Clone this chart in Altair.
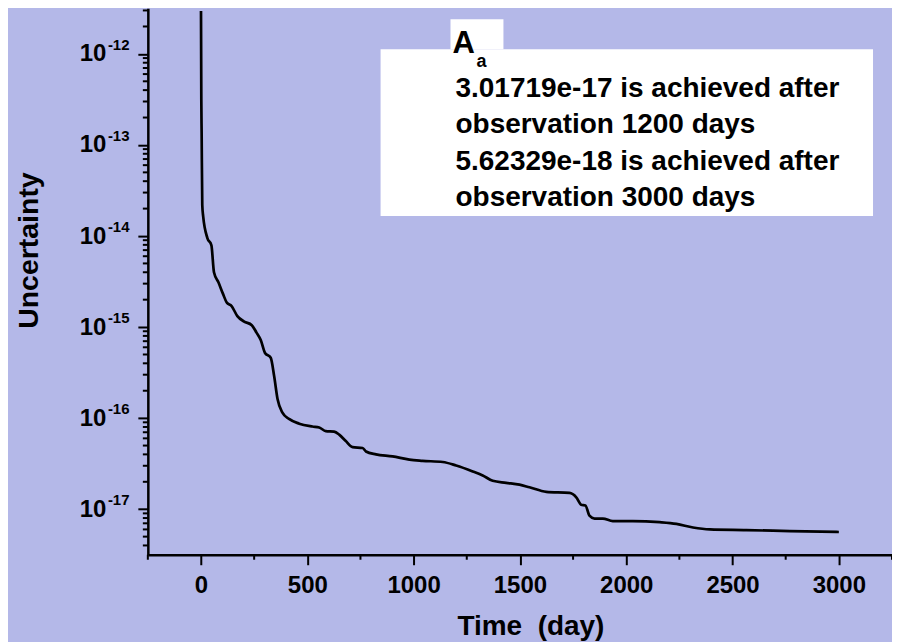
import altair as alt
import pandas as pd

# ---- data ----
days = [0, 1.5, 3, 6, 10, 30, 49, 61, 82, 104, 121, 144, 171, 203, 239, 261, 281, 301,
        328, 344, 360, 383, 414, 462, 524, 556, 587, 626, 650, 681, 713, 760, 776, 823,
        901, 980, 1042, 1137, 1200, 1278, 1325, 1372, 1435, 1498, 1545, 1624, 1733, 1765,
        1788, 1808, 1827, 1851, 1890, 1937, 2031, 2157, 2236, 2314, 2393, 2565, 2770, 3000]
uncertainty = [2.95e-12, 3.16e-13, 1.35e-13, 2.19e-14, 1.66e-14, 9.5e-15, 7.9e-15, 4.0e-15,
               3.1e-15, 2.3e-15, 1.86e-15, 1.70e-15, 1.32e-15, 1.15e-15, 1.05e-15, 8.7e-16,
               7.2e-16, 5.2e-16, 4.6e-16, 2.9e-16, 1.62e-16, 1.15e-16, 9.8e-17, 8.7e-17,
               8.1e-17, 7.9e-17, 7.2e-17, 7.1e-17, 6.6e-17, 5.6e-17, 4.8e-17, 4.7e-17,
               4.3e-17, 4.0e-17, 3.8e-17, 3.5e-17, 3.4e-17, 3.3e-17, 3.01719e-17, 2.6e-17,
               2.35e-17, 2.05e-17, 1.95e-17, 1.86e-17, 1.74e-17, 1.55e-17, 1.51e-17, 1.35e-17,
               1.12e-17, 1.10e-17, 8.5e-18, 7.9e-18, 7.9e-18, 7.4e-18, 7.4e-18, 7.2e-18,
               6.9e-18, 6.3e-18, 6.0e-18, 5.9e-18, 5.75e-18, 5.62329e-18]

y_major = [1e-17, 1e-16, 1e-15, 1e-14, 1e-13, 1e-12]
y_exponents = ["-17", "-16", "-15", "-14", "-13", "-12"]
x_major = [0, 500, 1000, 1500, 2000, 2500, 3000]
x_minor = [-250, 250, 750, 1250, 1750, 2250, 2750, 3250]

annotation_lines = ["3.01719e-17 is achieved after", "observation 1200 days",
                    "5.62329e-18 is achieved after", "observation 3000 days"]

BG = "#B4B8E8"
FONT = "Liberation Sans"

y_minor = [m * 10.0 ** e for e in range(-18, -11) for m in range(2, 10)]
y_minor = [v for v in y_minor if 3.17e-18 < v < 3.16e-12]

df = pd.DataFrame({"day": days, "u": uncertainty})

xscale = alt.Scale(domain=[-250, 3250], nice=False, zero=False)
yscale = alt.Scale(type="log", domain=[10 ** -17.5, 10 ** -11.5], nice=False)

x_axis = alt.Axis(
    values=x_major, format="d", tickSize=10, labelPadding=9,
    title="Time\u00a0\u00a0(day)", titleX=383, titleY=80, titleBaseline="alphabetic",
)
y_axis = alt.Axis(
    values=y_major, labelExpr="'10'", tickSize=10, labelPadding=32, labelBaseline="middle",
    title="Uncertainty", titleX=-110, titleY=242, titleAngle=270, titleBaseline="alphabetic",
    titleFontSize=28.5,
)

line = alt.Chart(df).mark_line(color="black", strokeWidth=2.7, interpolate="monotone").encode(
    x=alt.X("day:Q", scale=xscale, axis=x_axis),
    y=alt.Y("u:Q", scale=yscale, axis=y_axis),
)

exp_df = pd.DataFrame({"u": y_major, "t": y_exponents})
exps = alt.Chart(exp_df).mark_text(
    align="left", baseline="middle", dy=-9, fontSize=15, fontWeight="bold", font=FONT, color="black"
).encode(
    y=alt.Y("u:Q", scale=yscale, axis=y_axis),
    x=alt.value(-40),
    text="t:N",
)

ymin_df = pd.DataFrame({"u": y_minor})
y_minor_ticks = alt.Chart(ymin_df).mark_rule(color="black", strokeWidth=2).encode(
    y=alt.Y("u:Q", scale=yscale, axis=y_axis),
    x=alt.value(-5), x2=alt.value(0),
)
xmin_df = pd.DataFrame({"day": x_minor})
x_minor_ticks = alt.Chart(xmin_df).mark_rule(color="black", strokeWidth=2).encode(
    x=alt.X("day:Q", scale=xscale, axis=x_axis),
    y=alt.value(547), y2=alt.value(552),
)

one = pd.DataFrame({"k": [0]})
box = alt.Chart(one).mark_rect(color="white").encode(
    x=alt.value(233), x2=alt.value(726), y=alt.value(41), y2=alt.value(208))
tab = alt.Chart(one).mark_rect(color="white").encode(
    x=alt.value(303), x2=alt.value(356), y=alt.value(11), y2=alt.value(41))
big_a = alt.Chart(one).mark_text(
    align="left", baseline="alphabetic", fontSize=31, fontWeight="bold", font=FONT, color="black"
).encode(x=alt.value(305), y=alt.value(45), text=alt.value("A"))
small_a = alt.Chart(one).mark_text(
    align="left", baseline="alphabetic", fontSize=18, fontWeight="bold", font=FONT, color="black"
).encode(x=alt.value(329), y=alt.value(59), text=alt.value("a"))
note = alt.Chart(one).mark_text(
    align="left", baseline="alphabetic", fontSize=28, fontWeight="bold", font=FONT, color="black",
    lineHeight=36.5
).encode(x=alt.value(308), y=alt.value(88.7), text=alt.value(annotation_lines))

chart = alt.layer(box, tab, line, exps, y_minor_ticks, x_minor_ticks, big_a, small_a, note).properties(
    width=745, height=547,
    autosize=alt.AutoSizeParams(type="none"),
    padding={"left": 140, "top": 0, "right": 0, "bottom": 87},
    background=BG,
).configure_view(stroke=None).configure_axis(
    grid=False, domainColor="black", domainWidth=2.5, tickColor="black", tickWidth=2,
    labelFont=FONT, labelFontSize=24, labelFontWeight="bold", labelColor="black",
    titleFont=FONT, titleFontSize=28, titleFontWeight="bold", titleColor="black",
    labelFlush=False, labelOverlap=False,
)

chart.save("out.html", embed_options={"renderer": "svg", "actions": False})
